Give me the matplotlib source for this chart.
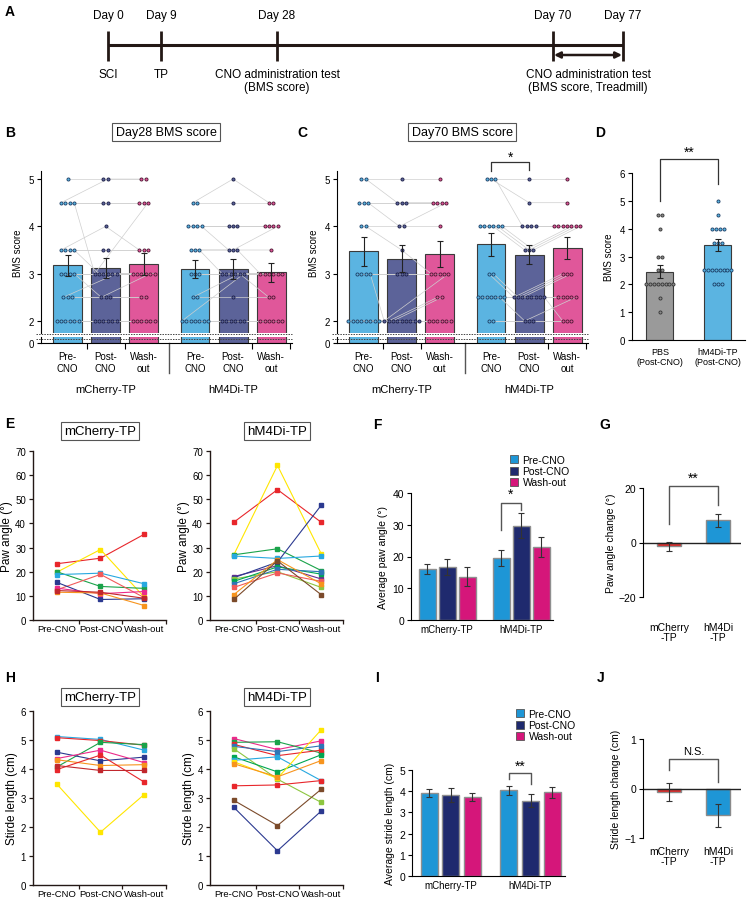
import numpy as np
import matplotlib
matplotlib.use("Agg")
import matplotlib.pyplot as plt
from matplotlib.patches import Patch

plt.rcParams["font.family"] = ["Liberation Sans", "DejaVu Sans"]
plt.rcParams["font.size"] = 7
plt.rcParams["axes.linewidth"] = 0.8

# ---- data ----
tl_days = ["Day 0", "Day 9", "Day 28", "Day 70", "Day 77"]
tl_events = ["SCI", "TP", "CNO administration test\n(BMS score)"]
tl_last_event = "CNO administration test\n(BMS score, Treadmill)"

# BMS individual scores (Pre, Post, Wash-out), one entry per animal
b28_mch_pre = [5, 4.5, 4.5, 4.5, 4.5, 3.5, 3.5, 3.5, 3.5, 3, 3, 3, 3, 2.5, 2.5, 2.5, 2, 2, 2, 2, 2, 2]
b28_mch_post = [5, 5, 4.5, 4.5, 3, 4, 3.5, 3.5, 3, 3, 3, 3, 2.5, 3, 2.5, 2.5, 2, 2, 2, 2, 2, 2]
b28_mch_wash = [5, 5, 4.5, 4.5, 4.5, 3.5, 3.5, 3.5, 3, 3, 3, 3, 3, 3, 2.5, 2.5, 2, 2, 2, 2, 2, 2]
b28_hm_pre = [4.5, 4.5, 4, 4, 4, 4, 3.5, 3.5, 3.5, 3, 3, 3, 2.5, 2.5, 2, 2, 2, 2, 2, 2, 2]
b28_hm_post = [5, 4.5, 4, 4, 4, 3.5, 3.5, 3.5, 3, 3, 3, 3, 3, 2.5, 3, 2, 2, 2, 2, 2, 2]
b28_hm_wash = [4.5, 4.5, 4, 4, 4, 3.5, 4, 3, 3, 3, 3, 3, 2.5, 2.5, 3, 2, 2, 2, 2, 2, 2]
b28_means = [3.18, 3.12, 3.20, 3.10, 3.10, 3.03]
b28_err = [0.22, 0.22, 0.23, 0.19, 0.21, 0.20]

b70_mch_pre = [5, 5, 4.5, 4.5, 4.5, 4, 4, 3, 3, 3, 3, 2, 2, 2, 2, 2, 2, 2, 2]
b70_mch_post = [5, 4.5, 4.5, 4.5, 4, 4, 3.5, 3, 3, 3, 2, 2, 2, 2, 2, 2, 2, 2, 2]
b70_mch_wash = [5, 4.5, 4.5, 4.5, 4.5, 4, 3, 3, 3, 3, 3, 2.5, 2.5, 2, 2, 2, 2, 2, 2]
b70_hm_pre = [5, 5, 5, 4, 4, 4, 4, 4, 4, 3, 3, 2.5, 2.5, 2.5, 2.5, 2.5, 2.5, 2.5, 2, 2]
b70_hm_post = [5, 4.5, 4, 4, 4, 4, 3.5, 3.5, 3.5, 2.5, 2.5, 2.5, 2.5, 2.5, 2.5, 2.5, 2, 2.5, 2, 2]
b70_hm_wash = [5, 4.5, 4, 4, 4, 4, 4, 4, 4, 3, 3, 3, 2.5, 2.5, 2.5, 2.5, 2.5, 2, 2, 2]
b70_means = [3.47, 3.32, 3.42, 3.62, 3.40, 3.55]
b70_err = [0.30, 0.28, 0.28, 0.25, 0.20, 0.23]

d_pbs = [4.5, 4.5, 4, 3, 3, 2.5, 2.5, 2, 2, 2, 2, 2, 2, 2, 2, 1.5, 1]
d_hm = b70_hm_post
d_means = [2.45, 3.42]
d_err = [0.23, 0.21]
d_labels = ["PBS\n(Post-CNO)", "hM4Di-TP\n(Post-CNO)"]

# paw angle per animal
e_mch_colors = ["#E8262B", "#FFE600", "#1AA34A", "#27A8E0", "#F15A5A", "#2B3990", "#EC2A8A", "#F7941D", "#C1272D"]
e_mch_pre = [23.3, 19.8, 20.0, 18.8, 12.5, 15.6, 13.2, 11.5, 12.2]
e_mch_post = [25.6, 29.2, 13.9, 19.4, 18.9, 8.5, 10.9, 11.2, 11.5]
e_mch_wash = [35.5, 9.5, 13.1, 15.0, 9.3, 8.8, 11.8, 6.0, 9.0]

e_hm_colors = ["#E8262B", "#FFE600", "#1AA34A", "#27A8E0", "#662D91", "#2B3990", "#8DC63F", "#00A651",
               "#2E75B6", "#F15A5A", "#F7941D", "#7B4A2A"]
e_hm_pre = [40.5, 27.0, 27.0, 26.5, 18.0, 17.5, 17.0, 16.0, 15.0, 13.5, 10.5, 8.5]
e_hm_post = [54.0, 64.0, 29.5, 25.5, 22.5, 24.0, 20.0, 22.0, 21.0, 19.5, 25.0, 24.5]
e_hm_wash = [40.5, 27.5, 20.5, 26.5, 17.0, 47.5, 13.5, 19.0, 20.0, 16.0, 15.0, 10.5]

paw_means = [16.1, 16.7, 13.7, 19.6, 29.7, 23.0]
paw_err = [1.5, 2.4, 2.9, 2.6, 4.0, 3.1]
paw_change = [-1.4, 8.1]
paw_change_err = [1.6, 2.4]

# stride length per animal
h_mch_colors = ["#27A8E0", "#E8262B", "#1AA34A", "#2B3990", "#EC2A8A", "#F7941D", "#E8262B", "#C1272D", "#FFE600"]
h_mch_pre = [5.12, 5.08, 4.07, 4.58, 4.36, 4.32, 3.98, 4.12, 3.48]
h_mch_post = [5.02, 4.98, 4.92, 4.28, 4.65, 4.12, 4.48, 3.95, 1.82]
h_mch_wash = [4.65, 4.82, 4.84, 4.41, 4.22, 4.15, 3.55, 3.95, 3.12]

h_hm_colors = ["#EC2A8A", "#1AA34A", "#E8262B", "#2E75B6", "#8DC63F", "#00A651", "#27A8E0", "#FFE600",
               "#F7941D", "#E8262B", "#7B4A2A", "#2B3990"]
h_hm_pre = [5.05, 4.92, 4.85, 4.78, 4.70, 4.42, 4.30, 4.25, 4.18, 3.42, 2.92, 2.68]
h_hm_post = [4.67, 4.94, 4.46, 4.60, 3.65, 3.90, 4.42, 3.68, 3.73, 3.45, 2.05, 1.18]
h_hm_wash = [4.97, 4.55, 4.65, 4.80, 2.85, 4.49, 3.60, 5.35, 4.29, 3.60, 3.30, 2.55]

stride_means = [3.92, 3.82, 3.72, 4.04, 3.55, 3.96]
stride_err = [0.17, 0.32, 0.20, 0.22, 0.30, 0.26]
stride_change = [-0.07, -0.54]
stride_change_err = [0.18, 0.23]

conds = ["Pre-CNO", "Post-CNO", "Wash-out"]
groups = ["mCherry-TP", "hM4Di-TP"]

# ---- layout helpers ----
W, H = 748, 903
fig = plt.figure(figsize=(W / 100, H / 100), dpi=100)


def px_ax(l, t, r, b):
    return fig.add_axes([l / W, 1 - b / H, (r - l) / W, (b - t) / H])


def fig_text(x, y, s, **kw):
    fig.text(x / W, 1 - y / H, s, **kw)


def boxed(x, y, s, size=9):
    fig_text(x, y, s, ha="center", va="center", fontsize=size,
             bbox=dict(boxstyle="square,pad=0.25", fc="white", ec="#555555", lw=0.8))


def spread(vals, step):
    vals = np.asarray(vals, float)
    off = np.zeros(len(vals))
    for v in np.unique(vals):
        idx = np.where(vals == v)[0]
        off[idx] = (np.arange(len(idx)) - (len(idx) - 1) / 2) * step
    return off


for letter, (x, y) in zip("ABCDEFGHIJ", [(5, 12), (5, 133), (297, 133), (595, 133), (5, 424), (373, 425),
                                         (599, 425), (5, 678), (375, 678), (597, 678)]):
    fig_text(x, y, letter, fontsize=10, fontweight="bold", ha="left", va="center")

# ---- A: timeline ----
ax = px_ax(0, 0, W, 105)
ax.set_xlim(0, W)
ax.set_ylim(105, 0)
ax.axis("off")
tl_x = [108, 161, 277, 553, 623]
ink = "#231815"
ax.hlines(46, tl_x[0], tl_x[-1], color=ink, lw=2.2)
ax.vlines(tl_x, 32, 62, color=ink, lw=2)
ax.annotate("", xy=(tl_x[4] - 1, 56), xytext=(tl_x[3] + 1, 56),
            arrowprops=dict(arrowstyle="<|-|>", lw=1.8, color=ink, mutation_scale=9, shrinkA=0, shrinkB=0))
for x, d in zip(tl_x, tl_days):
    ax.text(x, 16, d, ha="center", va="center", fontsize=8.5)
for x, ev in zip(tl_x[:3], tl_events):
    ax.text(x, 69, ev, ha="center", va="top", fontsize=8.5, linespacing=1.15)
ax.text((tl_x[3] + tl_x[4]) / 2, 69, tl_last_event, ha="center", va="top", fontsize=8.5, linespacing=1.15)

# ---- B / C: BMS with individual points ----
bms_x = [0, 1, 2, 3.35, 4.35, 5.35]
bms_colors = ["#5BB4E1", "#5C6399", "#E0579A"]
dot_edge = ["#1C3D63", "#1A1E45", "#4A1530"]


def bms_panel(x0, means, errs, data, title, sig):
    up = px_ax(x0, 172, x0 + 251, 334)
    lo = px_ax(x0, 338, x0 + 251, 344)
    for a in (up, lo):
        a.bar(bms_x, means, width=0.76, color=bms_colors * 2, edgecolor="#3a3a3a", linewidth=0.8, zorder=1)
        a.set_xlim(-0.7, 5.9)
        a.spines[["top", "right"]].set_visible(False)
    up.set_ylim(1.746, 5.17)
    lo.set_ylim(0, 0.127)
    up.spines["bottom"].set_visible(False)
    up.set_xticks([])
    up.set_yticks([2, 3, 4, 5])
    lo.set_yticks([0])
    for a in (up, lo):
        a.tick_params(axis="y", length=3, labelsize=7, pad=2)

    for g, conds_vals in enumerate(data):
        arr = np.array(conds_vals, float)  # 3 x n
        xp = np.array([bms_x[g * 3 + c] + spread(arr[c], 0.115) for c in range(3)])
        for i in range(arr.shape[1]):
            up.plot(xp[:, i], arr[:, i], color="#cfcfcf", lw=0.5, zorder=2)
        for c in range(3):
            up.scatter(xp[c], arr[c], s=5, facecolor=bms_colors[c], edgecolor=dot_edge[c], linewidth=0.6, zorder=4)
    up.errorbar(bms_x, means, yerr=errs, fmt="none", ecolor="#222222", elinewidth=0.8, capsize=2.5,
                capthick=0.8, zorder=5)
    up.set_ylabel("BMS score", fontsize=7, labelpad=4)

    # axis break
    up.axhline(1.746 - 1.2 / 47.3, xmin=-0.02, xmax=1.0, color="#444444", ls=(0, (1.5, 1.2)), lw=0.7,
               clip_on=False, zorder=6)
    lo.axhline(0.085, xmin=-0.02, xmax=1.0, color="#444444", ls=(0, (1.5, 1.2)), lw=0.7, clip_on=False, zorder=6)

    lo.set_xticks(bms_x, ["Pre-\nCNO", "Post-\nCNO", "Wash-\nout"] * 2)
    lo.tick_params(axis="x", which="major", length=0, pad=6, labelsize=7)
    lo.set_xticks([0.5, 1.5, 4.85, 5.85], minor=True)
    lo.tick_params(axis="x", which="minor", length=4, width=0.8)
    lo.axvline(2.675, ymin=-5, ymax=0, color="#555555", lw=1, clip_on=False)
    for gx, gname in zip([1, 4.35], groups):
        lo.annotate(gname, xy=(gx, 0), xycoords=("data", "axes fraction"), xytext=(0, -33),
                    textcoords="offset points", ha="center", va="center", fontsize=8)
    boxed(x0 + 125, 133, title)
    if sig:
        up.plot([3.35, 3.35, 4.35, 4.35], [5.17, 5.36, 5.36, 5.19], color="#333333", lw=0.9, clip_on=False)
        up.text(3.85, 5.47, "*", ha="center", va="center", fontsize=10)


bms_panel(41, b28_means, b28_err, [[b28_mch_pre, b28_mch_post, b28_mch_wash],
                                   [b28_hm_pre, b28_hm_post, b28_hm_wash]], "Day28 BMS score", False)
bms_panel(337, b70_means, b70_err, [[b70_mch_pre, b70_mch_post, b70_mch_wash],
                                    [b70_hm_pre, b70_hm_post, b70_hm_wash]], "Day70 BMS score", True)

# ---- D ----
ax = px_ax(632, 174, 745, 341)
ax.bar([0, 1], d_means, width=0.47, color=["#9A9A9A", "#5BB4E1"], edgecolor="#3a3a3a", linewidth=0.8, zorder=1)
for x, vals, fc, ec in [(0, d_pbs, "#8A8A8A", "#333333"), (1, d_hm, "#5BB4E1", "#1C3D63")]:
    ax.scatter(x + spread(vals, 0.066), vals, s=5, facecolor=fc, edgecolor=ec, linewidth=0.6, zorder=4)
ax.errorbar([0, 1], d_means, yerr=d_err, fmt="none", ecolor="#222222", elinewidth=0.8, capsize=2.5,
            capthick=0.8, zorder=5)
ax.set_xlim(-0.48, 1.47)
ax.set_ylim(0, 6)
ax.set_yticks(range(7))
ax.set_xticks([0, 1], d_labels)
ax.tick_params(axis="x", length=0, pad=5, labelsize=6.5)
ax.tick_params(axis="y", length=3, labelsize=7, pad=2)
ax.spines[["top", "right"]].set_visible(False)
ax.set_ylabel("BMS score", fontsize=7, labelpad=4)
ax.plot([0, 0, 1, 1], [5.0, 6.5, 6.5, 5.6], color="#333333", lw=0.9, clip_on=False)
ax.text(0.5, 6.75, "**", ha="center", va="center", fontsize=10)


# ---- E / H: per-animal lines ----
def line_panel(x0, t, b, pre, post, wash, colors, title, ylim, yticks, ylabel):
    ax = px_ax(x0, t, x0 + 133, b)
    for i, c in enumerate(colors):
        ax.plot([0, 1, 2], [pre[i], post[i], wash[i]], color=c, lw=0.8, marker="s", ms=2.2, mec=c)
    ax.set_xlim(-0.545, 2.5)
    ax.set_ylim(*ylim)
    ax.set_yticks(yticks)
    ax.set_xticks([0, 1, 2], conds)
    ax.tick_params(axis="x", which="major", length=0, pad=3, labelsize=6.8)
    ax.set_xticks([0.5, 1.5, 2.5], minor=True)
    ax.tick_params(axis="x", which="minor", length=3, width=0.9, color="#231815")
    ax.tick_params(axis="y", length=3, width=0.9, labelsize=7, pad=2, color="#231815")
    ax.spines[["top", "right"]].set_visible(False)
    for s in ["left", "bottom"]:
        ax.spines[s].set_color("#231815")
        ax.spines[s].set_linewidth(1)
    ax.set_ylabel(ylabel, fontsize=8.5, labelpad=1.5)
    boxed(x0 + 67, t - 20 if ylim[1] == 70 else t - 14, title, size=9.5)
    return ax


line_panel(33, 452, 621, e_mch_pre, e_mch_post, e_mch_wash, e_mch_colors, "mCherry-TP",
           (0, 70), range(0, 71, 10), "Paw angle (°)")
line_panel(210, 452, 621, e_hm_pre, e_hm_post, e_hm_wash, e_hm_colors, "hM4Di-TP",
           (0, 70), range(0, 71, 10), "Paw angle (°)")
line_panel(33, 712, 886, h_mch_pre, h_mch_post, h_mch_wash, h_mch_colors, "mCherry-TP",
           (0, 6), range(0, 7), "Stirde length (cm)")
line_panel(210, 712, 886, h_hm_pre, h_hm_post, h_hm_wash, h_hm_colors, "hM4Di-TP",
           (0, 6), range(0, 7), "Stirde length (cm)")

# ---- F / I: group averages ----
avg_x = [0, 1, 2, 3.7, 4.7, 5.7]
avg_colors = ["#1E96D6", "#1F2A6E", "#D5167A"]


def avg_panel(x0, x1, t, b, means, errs, ylim, yticks, ylabel, bw, br_y, br_legs, star, leg_xy):
    ax = px_ax(x0, t, x1, b)
    ax.bar(avg_x, means, width=bw, color=avg_colors * 2, edgecolor="#8f8f8f", linewidth=1.0, zorder=1)
    ax.errorbar(avg_x, means, yerr=errs, fmt="none", ecolor="#333333", elinewidth=0.8, capsize=2,
                capthick=0.8, zorder=3)
    ax.set_xlim(-0.8, 6.3)
    ax.set_ylim(*ylim)
    ax.set_yticks(yticks)
    ax.set_xticks([1, 4.7], groups)
    ax.tick_params(axis="x", length=0, pad=3, labelsize=7)
    ax.tick_params(axis="y", length=3, labelsize=7.5, pad=2)
    ax.spines[["top", "right"]].set_visible(False)
    ax.set_ylabel(ylabel, fontsize=7.5, labelpad=3)
    ax.plot([3.7, 3.7, 4.7, 4.7], [br_legs[0], br_y, br_y, br_legs[1]], color="#555555", lw=1.0, clip_on=False)
    ax.text(4.2, br_y + (ylim[1] - ylim[0]) * 0.07, star, ha="center", va="center", fontsize=10)
    handles = [Patch(fc=c, ec="#555555", lw=0.6) for c in avg_colors]
    fig.legend(handles, conds, loc="upper left", bbox_to_anchor=(leg_xy[0] / W, 1 - leg_xy[1] / H),
               frameon=False, fontsize=7.5, handlelength=0.8, handleheight=0.8, handletextpad=0.4,
               labelspacing=0.12, borderpad=0, borderaxespad=0)
    return ax


avg_panel(411, 553, 494, 621, paw_means, paw_err, (0, 40), range(0, 41, 10), "Average paw angle (°)",
          0.85, 37, (28.5, 34.5), "*", (510, 456))
avg_panel(412, 565, 771, 877, stride_means, stride_err, (0, 5), range(0, 6), "Average stride length (cm)",
          0.79, 4.84, (4.56, 4.33), "**", (516, 710))


# ---- G / J: change from baseline ----
def change_panel(t, b, means, errs, ylim, yticks, ylabel, br_y, br_legs, sig_text, lab_off):
    ax = px_ax(643, t, 741, b)
    ax.bar([0, 1], means, width=0.49, color=["#E0201E", "#1E96D6"], edgecolor="#8a8a8a", linewidth=1.0, zorder=1)
    ax.errorbar([0, 1], means, yerr=errs, fmt="none", ecolor="#333333", elinewidth=0.8, capsize=2,
                capthick=0.8, zorder=3)
    ax.axhline(0, color="#222222", lw=1.0, zorder=2)
    ax.set_xlim(-0.53, 1.47)
    ax.set_ylim(*ylim)
    ax.set_yticks(yticks)
    ax.set_xticks([])
    ax.tick_params(axis="y", length=3, labelsize=7.5, pad=2)
    ax.spines[["top", "right", "bottom"]].set_visible(False)
    ax.set_ylabel(ylabel, fontsize=7.5, labelpad=2)
    for x, lab in zip([0, 1], ["mCherry\n-TP", "hM4Di\n-TP"]):
        ax.annotate(lab, xy=(x, 0), xycoords=("data", "axes fraction"), xytext=(0, -lab_off),
                    textcoords="offset points", ha="center", va="top", fontsize=7.5, linespacing=1.0)
    ax.plot([0, 0, 1, 1], [br_legs[0], br_y, br_y, br_legs[1]], color="#555555", lw=1.0, clip_on=False)
    ax.text(0.5, br_y + (ylim[1] - ylim[0]) * 0.075, sig_text, ha="center", va="center",
            fontsize=10 if sig_text == "**" else 8)
    return ax


change_panel(489, 598, paw_change, paw_change_err, (-20, 20), [-20, 0, 20], "Paw angle change (°)",
             20.8, (6.8, 13.8), "**", 18)
change_panel(740, 839, stride_change, stride_change_err, (-1, 1), [-1, 0, 1], "Stride length change (cm)",
             0.6, (0.38, 0.13), "N.S.", 6)

fig.savefig("out.png", dpi=100)
